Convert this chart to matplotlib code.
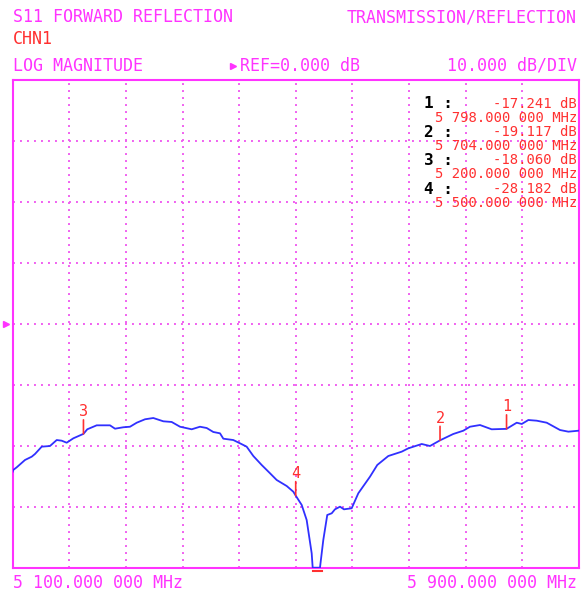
import matplotlib
matplotlib.use("Agg")
import matplotlib.pyplot as plt
from matplotlib.lines import Line2D

# trace (MHz, dB)
freq_mhz = [5100.0, 5100.8, 5105.7, 5117.4, 5126.9, 5131.5, 5141.0, 5152.7, 5162.2, 5169.3,
            5176.3, 5185.7, 5200.0, 5205.4, 5218.7, 5237.5, 5244.6, 5256.3, 5265.8, 5275.3,
            5287.0, 5298.7, 5312.9, 5324.7, 5336.5, 5353.0, 5364.7, 5374.2, 5383.5, 5393.0,
            5397.7, 5411.8, 5421.3, 5430.7, 5440.1, 5451.9, 5463.7, 5473.1, 5487.3, 5496.6,
            5500.0, 5508.5, 5515.5, 5522.6, 5524.0, 5534.3, 5539.0, 5544.6, 5550.9, 5555.5,
            5562.6, 5568.2, 5579.1, 5588.5, 5605.0, 5615.3, 5630.9, 5649.8, 5659.2, 5678.1,
            5689.8, 5704.0, 5722.7, 5736.9, 5746.3, 5760.5, 5777.0, 5798.0, 5812.4, 5819.5,
            5828.8, 5840.7, 5854.8, 5873.6, 5885.4, 5900.0]
s11_db = [-24.26, -23.98, -23.54, -22.34, -21.80, -21.36, -20.16, -20.05, -19.07, -19.18,
          -19.51, -18.79, -18.06, -17.31, -16.66, -16.66, -17.21, -16.98, -16.89, -16.23,
          -15.67, -15.46, -16.00, -16.11, -16.89, -17.31, -16.89, -17.10, -17.75, -17.97,
          -18.85, -19.07, -19.61, -20.16, -21.69, -23.16, -24.52, -25.62, -26.61, -27.54,
          -28.18, -29.72, -32.18, -37.64, -40.00, -40.00, -35.46, -31.36, -31.08, -30.43,
          -30.00, -30.43, -30.26, -27.80, -25.08, -23.16, -21.69, -20.98, -20.43, -19.72,
          -20.05, -19.12, -18.08, -17.54, -16.89, -16.61, -17.31, -17.24, -16.23, -16.44,
          -15.79, -15.90, -16.23, -17.43, -17.70, -17.54]

marker_ids = ["1", "2", "3", "4"]
marker_freq = [5798.0, 5704.0, 5200.0, 5500.0]
marker_db = [-17.241, -19.117, -18.060, -28.182]
marker_db_txt = ["-17.241 dB", "-19.117 dB", "-18.060 dB", "-28.182 dB"]
marker_freq_txt = ["5 798.000 000 MHz", "5 704.000 000 MHz", "5 200.000 000 MHz", "5 500.000 000 MHz"]

start_mhz, stop_mhz = 5100, 5900
ref_db, db_per_div = 0.0, 10.0

MAG = "#ff33ff"
GRID = "#f060f0"
RED = "#ff3030"
BLUE = "#3030ff"
FONT = "DejaVu Sans Mono"

W, H = 581, 596
fig = plt.figure(figsize=(W / 100, H / 100), dpi=100)


def fx(px):
    return px / W


def fy(py):
    return 1 - py / H


ax = fig.add_axes([fx(12.7), fy(567.7), (578.7 - 12.7) / W, (567.7 - 79.7) / H])
ax.set_xlim(start_mhz, stop_mhz)
ax.set_ylim(ref_db - 4 * db_per_div, ref_db + 4 * db_per_div)
step = (stop_mhz - start_mhz) / 10
ax.set_xticks([start_mhz + i * step for i in range(11)])
ax.set_yticks([ref_db + (i - 4) * db_per_div for i in range(9)])
ax.tick_params(length=0, labelbottom=False, labelleft=False)
ax.grid(True, color=GRID, linestyle=(0, (1, 2.6)), linewidth=1.4)
for sp in ax.spines.values():
    sp.set_color(MAG)
    sp.set_linewidth(1.5)

ax.plot(freq_mhz, s11_db, color=BLUE, linewidth=1.3, zorder=3)

# marker ticks and numbers
for mid, f, d in zip(marker_ids, marker_freq, marker_db):
    ax.annotate("", xy=(f, d), xytext=(0, 14), textcoords="offset pixels",
                arrowprops=dict(arrowstyle="-", color=RED, lw=1.2, shrinkA=0, shrinkB=0))
    ax.annotate(mid, xy=(f, d), xytext=(0, 22), textcoords="offset pixels",
                ha="center", va="center", color=RED, fontsize=11, family=FONT)

# reference level arrow on the left
ax.plot([-0.011], [ref_db], marker=">", color=MAG, markersize=5,
        transform=ax.get_yaxis_transform(), clip_on=False)
# marker below-scale indicator
ax.plot([5524.5, 5537.0], [-40.6, -40.6], color=RED, linewidth=1.5, clip_on=False)

# header lines
fig.text(fx(13), fy(17.5), "S11 FORWARD REFLECTION", color=MAG, fontsize=12, family=FONT, va="center")
fig.text(fx(577), fy(17.5), "TRANSMISSION/REFLECTION", color=MAG, fontsize=12, family=FONT,
         va="center", ha="right")
fig.text(fx(13), fy(39), "CHN1", color=RED, fontsize=12, family=FONT, va="center")
fig.text(fx(13), fy(66), "LOG MAGNITUDE", color=MAG, fontsize=12, family=FONT, va="center")
fig.add_artist(Line2D([fx(233)], [fy(66)], marker=">", color=MAG, markersize=5))
fig.text(fx(240), fy(66), "REF=%.3f dB" % ref_db, color=MAG, fontsize=12, family=FONT, va="center")
fig.text(fx(577), fy(66), "%.3f dB/DIV" % db_per_div, color=MAG, fontsize=12, family=FONT,
         va="center", ha="right")

# marker readout table
for i in range(4):
    y0 = 104 + i * 28.4
    fig.text(fx(424), fy(y0), marker_ids[i] + " :", color="black", fontsize=11.5, family=FONT,
             fontweight="bold", va="center")
    fig.text(fx(577), fy(y0 - 0.5), marker_db_txt[i], color=RED, fontsize=10, family=FONT,
             va="center", ha="right")
    fig.text(fx(577), fy(y0 + 13.5), marker_freq_txt[i], color=RED, fontsize=10, family=FONT,
             va="center", ha="right")

# start / stop frequency
fig.text(fx(13), fy(583), "5 100.000 000 MHz", color=MAG, fontsize=12, family=FONT, va="center")
fig.text(fx(577), fy(583), "5 900.000 000 MHz", color=MAG, fontsize=12, family=FONT,
         va="center", ha="right")

fig.savefig("out.png", dpi=100, facecolor="white")
